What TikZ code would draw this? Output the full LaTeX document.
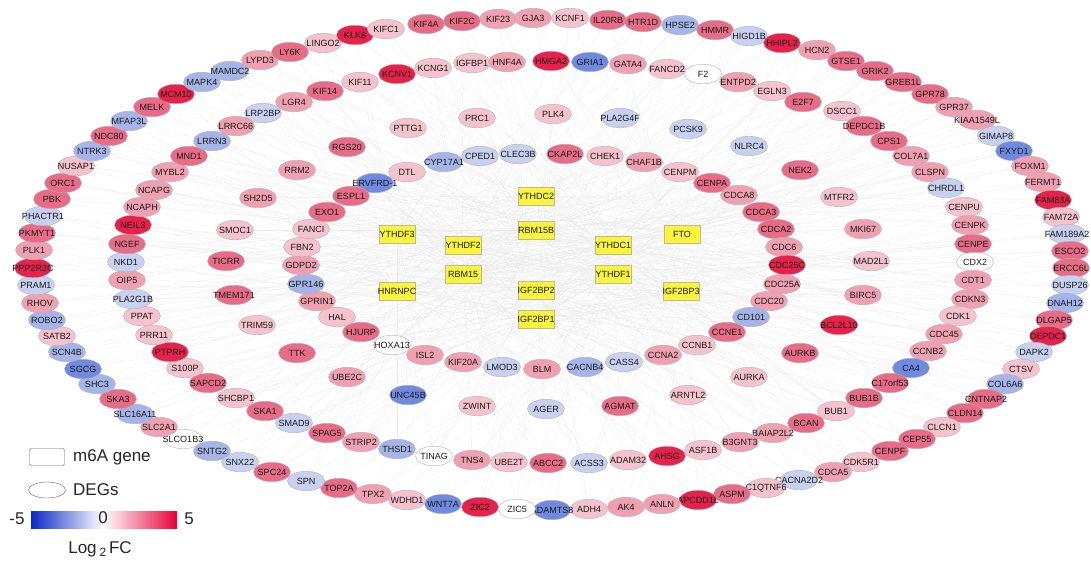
\documentclass[tikz,border=0pt]{standalone}
\usepackage{fontspec}
\setmainfont{Liberation Sans}
\usetikzlibrary{shapes.geometric,backgrounds}

\definecolor{degw}{RGB}{255,255,255}
\definecolor{degp1}{RGB}{246,194,205}
\definecolor{degp2}{RGB}{241,160,177}
\definecolor{degp3}{RGB}{232,108,135}
\definecolor{degp4}{RGB}{230,34,76}
\definecolor{degb1}{RGB}{200,209,241}
\definecolor{degb2}{RGB}{165,181,234}
\definecolor{degb3}{RGB}{112,138,224}
\definecolor{m6ayellow}{RGB}{250,245,60}
\definecolor{fcblue}{RGB}{12,40,200}
\definecolor{fcred}{RGB}{232,0,60}

% gene / x / y / colour class (log2FC)
\def\degs{LYPD3/260/60/p2, LY6K/290/52/p3, LINGO2/323/43/p1, KLK8/355/35/p4,
  KIFC1/386/29/p1, KIF4A/426/24/p3, KIF2C/462/21/p3, KIF23/498/19/p2,
  GJA3/533/18/p2, KCNF1/570/18/p1, IL20RB/608/20/p3, HTR1D/643/22/p3,
  HPSE2/680/25/b2, HMMR/715/30/p3, HIGD1B/749/36/b1, HHIPL2/782/43/p4,
  HCN2/817/50/p2, GTSE1/846/61/p3, GRIK2/875/71/p3, GREB1L/903/82/p3,
  GPR78/930/94/p3, GPR37/954/107/p2, KIAA1549L/977/120/p2, GIMAP8/996/136/b1,
  FXYD1/1014/151/b3, FOXM1/1030/166/p2, FERMT1/1043/182/p2, FAM83A/1053/200/p4,
  FAM72A/1061/217/p1, FAM189A2/1067/234/b1, ESCO2/1070/251/p3, ERCC6L/1071/268/p3,
  DUSP26/1070/285/b1, DNAH12/1065/303/b2, DLGAP5/1054/320/p3, DEPDC1/1048/336/p4,
  DAPK2/1034/352/b1, CTSV/1021/369/p1, COL6A6/1005/384/b2, CNTNAP2/986/399/p3,
  CLDN14/965/413/p3, CLCN1/942/427/p1, CEP55/917/439/p3, CENPF/890/451/p3,
  CDK5R1/861/462/p1, CDCA5/833/472/p2, CACNA2D2/799/480/b1, C1QTNF6/766/488/p1,
  ASPM/732/494/p3, APCDD1L/698/500/p4, ANLN/662/504/p2, AK4/626/507/p2,
  ADH4/589/509/p1, ADAMTS8/552/510/b3, ZIC5/517/509/w, ZIC2/480/507/p4,
  WNT7A/443/504/b3, WDHD1/407/500/p1, TPX2/373/494/p2, TOP2A/339/488/p3,
  SPN/306/481/b1, SPC24/272/472/p3, SNX22/240/462/b1, SNTG2/212/451/b2,
  SLCO1B3/183/439/w, SLC2A1/159/427/p2, SLC16A11/135/414/b2, SKA3/118/399/p3,
  SHC3/97/384/b2, SGCG/83/369/b3, SCN4B/67/352/b2, SATB2/57/336/p1,
  ROBO2/47/320/b2, RHOV/40/303/p2, PRAM1/36/285/b1, PPP2R2C/33/268/p4,
  PLK1/34/250/p2, PKMYT1/37/233/p3, PHACTR1/43/216/b1, PBK/52/199/p3,
  ORC1/63/183/p3, NUSAP1/76/166/p1, NTRK3/92/151/b2, NDC80/109/136/p3,
  MFAP3L/129/121/b2, MELK/152/107/p3, MCM10/176/94/p4, MAPK4/202/82/b2,
  MAMDC2/230/71/b2,
  LRP2BP/263/113/b1, LGR4/294/102/p2, KIF14/325/91/p3, KIF11/360/82/p1,
  KCNV1/397/74/p4, KCNG1/433/68/p1, IGFBP1/472/63/p1, HNF4A/507/62/p2,
  HMGA2/551/61/p4, GRIA1/590/62/b3, GATA4/628/64/p2, FANCD2/667/69/p1,
  F2/703/74/w, ENTPD2/738/82/p2, EGLN3/772/91/p1, E2F7/803/102/p3,
  DSCC1/842/111/p1, DEPDC1B/864/126/p3, CPS1/889/141/p3, COL7A1/911/156/p2,
  CLSPN/930/172/p2, CHRDL1/946/188/b1, CENPU/964/207/p1, CENPK/970/225/p2,
  CENPE/973/244/p3, CDX2/975/262/w, CDT1/973/280/p2, CDKN3/970/299/p2,
  CDK1/958/316/p1, CDC45/944/334/p2, CCNB2/928/351/p2, CA4/911/368/b3,
  C17orf53/890/383/p3, BUB1B/864/398/p3, BUB1/836/411/p1, BCAN/806/423/p3,
  BAIAP2L2/773/433/p2, B3GNT3/740/442/p2, ASF1B/703/450/p1, AHSG/667/456/p4,
  ADAM32/628/460/p1, ACSS3/589/463/b1, ABCC2/548/463/p3, UBE2T/509/462/p1,
  TNS4/472/460/p2, TINAG/434/456/w, THSD1/397/449/b2, STRIP2/361/442/p2,
  SPAG5/327/433/p3, SMAD9/294/423/b1, SKA1/265/411/p3, SHCBP1/236/398/p1,
  SAPCD2/208/383/p3, S100P/185/368/p1, PTPRH/170/352/p4, PRR11/154/335/p1,
  PPAT/142/316/p1, PLA2G1B/133/299/b1, OIP5/127/280/p2, NKD1/126/262/b1,
  NGEF/127/244/p3, NEIL3/133/225/p4, NCAPH/142/207/p2, NCAPG/154/190/p2,
  MYBL2/170/172/p2, MND1/189/156/p3, LRRN3/212/141/b2, LRRC66/236/126/p2,
  ERVFRD-1/375/183/b3, DTL/407/172/p1, CYP17A1/444/162/b2, CPED1/480/156/b1,
  CLEC3B/518/154/b1, CKAP2L/565/154/p3, CHEK1/605/156/p1, CHAF1B/644/162/p2,
  CENPM/680/172/p1, CENPA/712/183/p3, CDCA8/739/195/p2, CDCA3/761/212/p3,
  CDCA2/776/229/p3, CDC6/784/247/p2, CDC25C/787/265/p4, CDC25A/782/284/p2,
  CDC20/769/301/p2, CD101/751/317/b2, CCNE1/727/332/p3, CCNB1/697/345/p1,
  CCNA2/663/355/p2, CASS4/624/362/b1, CACNB4/585/367/b2, BLM/542/369/p2,
  LMOD3/502/367/b1, KIF20A/463/362/p2, ISL2/425/355/p2, HOXA13/392/345/w,
  HJURP/361/332/p3, HAL/337/317/p1, GPRIN1/317/301/p2, GPR146/306/284/b2,
  GDPD2/301/265/p2, FBN2/302/247/p1, FANCI/311/229/p1, EXO1/327/212/p3,
  ESPL1/351/196/p3,
  PTTG1/408/128/p1, PRC1/477/118/p1, PLK4/553/114/p1, PLA2G4F/620/118/b1,
  PCSK9/688/129/b1, NLRC4/749/146/b1, NEK2/800/170/p3, MTFR2/839/197/p1,
  MKI67/863/229/p2, MAD2L1/871/261/p1, BIRC5/863/295/p2, BCL2L10/839/325/p4,
  AURKB/800/353/p3, AURKA/749/377/p1, ARNTL2/688/395/p1, AGMAT/620/406/p3,
  AGER/546/409/b1, ZWINT/477/406/p1, UNC45B/408/395/b3, UBE2C/347/377/p2,
  TTK/297/353/p3, TRIM59/257/325/p1, TMEM171/234/295/p3, TICRR/226/261/p3,
  SMOC1/235/230/p1, SH2D5/258/198/p2, RRM2/297/170/p2, RGS20/347/147/p3}

\begin{document}
\begin{tikzpicture}[x=1pt, y=-1pt,
    deg/.style={draw=black!30, line width=0.4pt, ellipse, minimum width=37pt,
      minimum height=19.5pt, inner sep=0pt, font=\fontsize{9}{9}\selectfont, text=black!90},
    m6a/.style={draw=yellow!40!black!50, line width=0.4pt, rectangle, fill=m6ayellow,
      minimum width=36pt, minimum height=18pt, inner sep=0pt,
      font=\fontsize{9}{9}\selectfont, text=black!90},
    link/.style={black!8, line width=0.2pt},
    key/.style={font=\fontsize{17}{18}\selectfont, text=black!85, inner sep=0pt}]
  \useasboundingbox (0,0) rectangle (1091,565);

  % m6A regulators in the middle
  \foreach \n/\x/\y [count=\j from 0] in {YTHDF3/397/234, YTHDF2/463/245, RBM15/463/274,
      HNRNPC/397/291, YTHDC2/536/196, RBM15B/536/230, IGF2BP2/536/290, IGF2BP1/536/319,
      YTHDC1/613/245, YTHDF1/613/274, FTO/682/234, IGF2BP3/681/291}
    \node[m6a, alias=m\j] (\n) at (\x,\y) {\makebox[0pt]{\n}};

  % DEGs on the rings
  \foreach \g/\x/\y/\c in \degs
    \node[deg, fill=deg\c] (\g) at (\x,\y) {\makebox[0pt]{\g}};

  % interactions
  \begin{scope}[on background layer]
    \foreach \g/\x/\y/\c [count=\i] in \degs {
      \pgfmathtruncatemacro\ka{mod(\i,12)}
      \pgfmathtruncatemacro\kb{mod(5*\i+3,12)}
      \pgfmathtruncatemacro\kc{mod(7*\i+8,12)}
      \foreach \k in {\ka,\kb,\kc}
        \draw[link] (m\k) -- (\g);
    }
  \end{scope}

  % legend
  \node[draw=black!60, rounded corners=1.5pt, minimum width=35pt, minimum height=17pt] (keybox) at (47,457) {};
  \node[key, anchor=west] (keym6a) at (73,457) {m6A gene};
  \node[draw=black!60, ellipse, minimum width=37pt, minimum height=16pt, inner sep=0pt] (keyell) at (47,490) {};
  \node[key, anchor=west] (keydeg) at (73,490) {DEGs};
  \shade[left color=fcblue, right color=white] (31,511) rectangle (103,528);
  \shade[left color=white, right color=fcred] (103,511) rectangle (177,528);
  \node[key] (fcmin) at (17,519) {-5};
  \node[key] (fcmid) at (103,518) {0};
  \node[key] (fcmax) at (189,519) {5};
  \node[key] (fclabel) at (100,549) {Log\,\raisebox{-3pt}{\fontsize{12}{12}\selectfont 2}\,FC};
\end{tikzpicture}
\end{document}
